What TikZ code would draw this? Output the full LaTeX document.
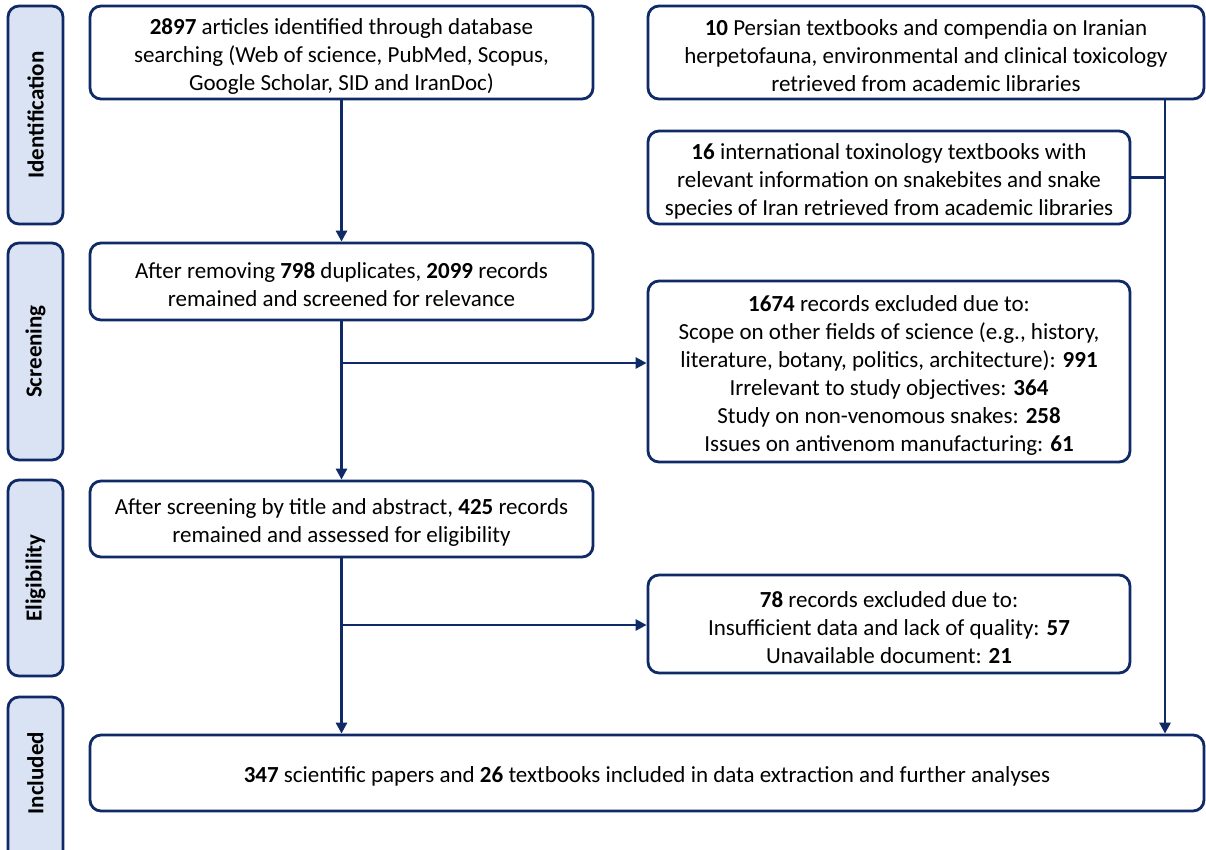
\documentclass[tikz,border=0pt]{standalone}
\usepackage{fontspec}
\setmainfont{Carlito}
\usepackage{tikz}
\usetikzlibrary{arrows.meta}
\definecolor{navy}{HTML}{0F2A66}
\definecolor{stage}{HTML}{DAE3F3}
\newcommand{\rowup}{\rule{0pt}{23pt}}

\begin{document}
\begin{tikzpicture}[x=1pt,y=-1pt,
	box/.style={draw=navy,line width=2.8pt,rounded corners=11pt,fill=white,align=center,
		inner sep=0pt,font=\fontsize{23}{28}\selectfont},
	stagebox/.style={draw=navy,line width=2.8pt,rounded corners=11pt,fill=stage,
		minimum width=55pt,inner sep=0pt},
	stagetext/.style={rotate=90,font=\fontsize{23}{26}\selectfont\bfseries},
	arr/.style={draw=navy,line width=2.8pt,-{Triangle[length=11pt,width=11pt]}},
	link/.style={draw=navy,line width=2.8pt}]
	\useasboundingbox (0,0) rectangle (1206,849);
	\clip (0,0) rectangle (1206,849);
	% stages
	\node[stagebox,minimum height=218pt] (S1) at (35.5,115) {};
	\node[stagetext] at (S1) {Identification};
	\node[stagebox,minimum height=217pt] (S2) at (35.5,351.5) {};
	\node[stagetext] at (S2) {Screening};
	\node[stagebox,minimum height=196pt] (S3) at (35.5,578) {};
	\node[stagetext] at (S3) {Eligibility};
	\node[stagebox,minimum height=170pt] (S4) at (35.5,782) {};
	\node[stagetext] at (35.5,773) {Included};
	% boxes
	\node[box,minimum width=503pt,minimum height=93pt] (A) at (341.5,52.5)
		{\rowup\textbf{2897} articles identified through database\\searching (Web of science, PubMed, Scopus,\\Google Scholar, SID and IranDoc)};
	\node[box,minimum width=556pt,minimum height=93pt] (B) at (926,52.5)
		{\rowup\textbf{10} Persian textbooks and compendia on Iranian\\herpetofauna, environmental and clinical toxicology\\retrieved from academic libraries};
	\node[box,minimum width=482pt,minimum height=93pt] (C) at (889,177.5)
		{\rowup\textbf{16} international toxinology textbooks with\\relevant information on snakebites and snake\\species of Iran retrieved from academic libraries};
	\node[box,minimum width=503pt,minimum height=77pt] (D) at (341.5,281.5)
		{\rowup After removing \textbf{798} duplicates, \textbf{2099} records\\remained and screened for relevance};
	\node[box,minimum width=482pt,minimum height=181pt] (E) at (889,371.5)
		{\rowup\textbf{1674} records excluded due to:\\Scope on other fields of science (e.g., history,\\literature, botany, politics, architecture): \textbf{991}\\Irrelevant to study objectives: \textbf{364}\\Study on non-venomous snakes: \textbf{258}\\Issues on antivenom manufacturing: \textbf{61}};
	\node[box,minimum width=503pt,minimum height=76pt] (F) at (341.5,519)
		{\rowup After screening by title and abstract, \textbf{425} records\\remained and assessed for eligibility};
	\node[box,minimum width=482pt,minimum height=98pt] (G) at (889,624)
		{\rowup\textbf{78} records excluded due to:\\Insufficient data and lack of quality: \textbf{57}\\Unavailable document: \textbf{21}};
	\node[box,minimum width=1114pt,minimum height=76pt] (H) at (647,773)
		{\rowup\textbf{347} scientific papers and \textbf{26} textbooks included in data extraction and further analyses};
	% connectors
	\coordinate (j1) at (341.5,363);
	\coordinate (j2) at (341.5,625);
	\coordinate (rt) at (1165,99);
	\draw[arr] (A.south) -- (D.north);
	\draw[arr] (D.south) -- (F.north);
	\draw[arr] (j1) -- (j1 -| E.west);
	\draw[arr] (F.south) -- (F.south |- H.north);
	\draw[arr] (j2) -- (j2 -| G.west);
	\draw[arr] (rt) -- (rt |- H.north);
	\draw[link] (C.east) -- (C.east -| rt);
\end{tikzpicture}
\end{document}
